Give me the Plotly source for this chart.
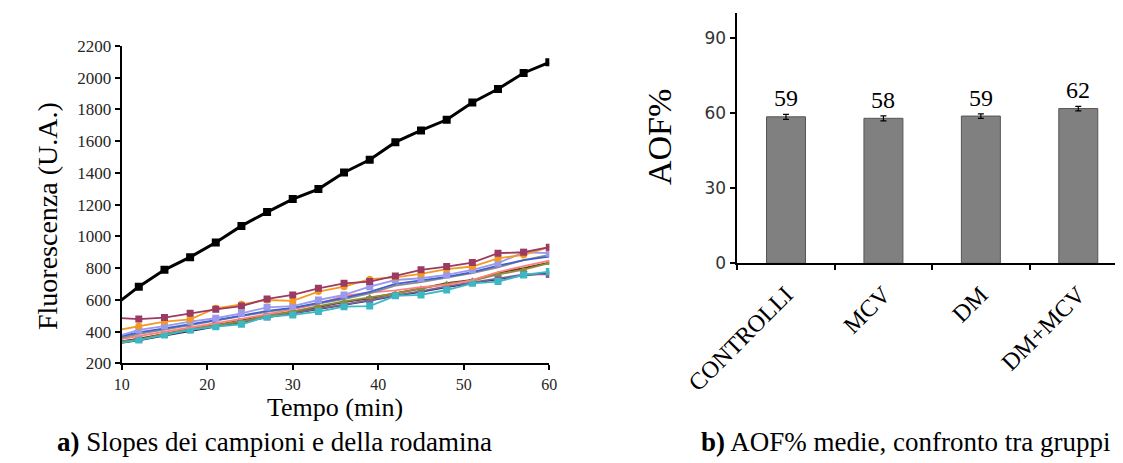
import plotly.graph_objects as go

# ---------------- data: panel a ----------------
tempo = [9, 12, 15, 18, 21, 24, 27, 30, 33, 36, 39, 42, 45, 48, 51, 54, 57, 60]
rodamina = [558, 683, 789, 869, 961, 1066, 1153, 1235, 1298, 1403, 1483, 1594, 1668, 1735, 1844, 1929, 2030, 2097]
c_maroon = [487, 479, 488, 515, 540, 561, 606, 631, 673, 704, 715, 751, 789, 810, 835, 894, 900, 932]
c_orange = [404, 435, 463, 477, 547, 572, 599, 593, 652, 683, 730, 742, 763, 793, 810, 862, 883, 932]
c_lavender = [362, 410, 435, 463, 484, 515, 553, 561, 599, 631, 683, 725, 736, 757, 789, 831, 900, 894]
c_blue = [360, 395, 420, 445, 472, 500, 530, 550, 580, 612, 650, 700, 722, 745, 775, 815, 850, 873]
c_grey = [350, 385, 412, 440, 468, 495, 525, 548, 575, 605, 640, 690, 712, 738, 768, 805, 850, 883]
c_pink = [345, 372, 400, 425, 450, 480, 510, 540, 575, 625, 645, 660, 680, 694, 725, 775, 812, 847]
c_teal = [322, 347, 378, 410, 431, 446, 494, 505, 526, 557, 561, 625, 631, 662, 704, 715, 757, 778]
c_olive = [335, 347, 385, 415, 440, 465, 500, 525, 560, 590, 615, 640, 670, 700, 720, 760, 790, 831]
c_brown = [330, 355, 385, 415, 440, 470, 500, 525, 555, 585, 610, 640, 672, 705, 725, 770, 800, 835]
c_navy = [322, 345, 375, 405, 432, 460, 490, 515, 540, 568, 595, 625, 650, 680, 705, 728, 755, 768]
c_purple = [330, 352, 382, 412, 438, 462, 492, 515, 545, 570, 600, 628, 655, 685, 710, 735, 760, 760]
y_ticks_a = [200, 400, 600, 800, 1000, 1200, 1400, 1600, 1800, 2000, 2200]
x_ticks_a = [10, 20, 30, 40, 50, 60]

# ---------------- data: panel b ----------------
gruppi = ["CONTROLLI", "MCV", "DM", "DM+MCV"]
aof = [58.6, 58.0, 58.9, 61.9]
aof_err = [1.0, 1.0, 0.9, 0.9]
aof_lbl = ["59", "58", "59", "62"]
y_ticks_b = [0, 30, 60, 90]

SERIF = "Liberation Serif"
W, H = 1123, 463
OFF = 8  # the page body margin shifts the figure by this many pixels


def fx(x):
    return (x - OFF) / W


def fy(y):
    return 1 - (y - OFF) / H


fig = go.Figure()

samples = [
    (c_navy, "#1F2F5F", None),
    (c_purple, "#7F63A0", "square"),
    (c_brown, "#5C3A1E", None),
    (c_olive, "#8C8C3C", "triangle-up"),
    (c_teal, "#3BB8C3", "square"),
    (c_pink, "#FF8080", None),
    (c_grey, "#8C8C8C", None),
    (c_blue, "#4060D0", None),
    (c_lavender, "#9999EE", "square"),
    (c_orange, "#F59A1E", "circle"),
    (c_maroon, "#9B3A62", "square"),
]
for vals, col, sym in samples:
    fig.add_trace(go.Scatter(
        x=tempo, y=vals, xaxis="x", yaxis="y",
        mode="lines+markers" if sym else "lines",
        line=dict(color=col, width=1.8),
        marker=dict(symbol=sym or "circle", size=7, color=col),
        showlegend=False))

fig.add_trace(go.Scatter(
    x=tempo, y=rodamina, xaxis="x", yaxis="y", mode="lines+markers",
    line=dict(color="black", width=3),
    marker=dict(symbol="square", size=8, color="black"),
    showlegend=False))

fig.add_trace(go.Bar(
    x=gruppi, y=aof, xaxis="x2", yaxis="y2", width=0.4,
    marker=dict(color="#808080", line=dict(color="#555555", width=1)),
    error_y=dict(type="data", array=aof_err, color="black", thickness=1.2, width=3),
    showlegend=False))

annotations = []
for g, v, e, t in zip(gruppi, aof, aof_err, aof_lbl):
    annotations.append(dict(x=g, y=v + e, xref="x2", yref="y2", text=t, showarrow=False,
                            yanchor="bottom", yshift=1,
                            font=dict(family=SERIF, size=24, color="black")))


def px_note(text, x, y, size, xanchor="center", angle=0):
    return dict(text=text, x=fx(x), y=fy(y), xref="paper", yref="paper",
                showarrow=False, xanchor=xanchor, yanchor="middle", textangle=angle,
                font=dict(family=SERIF, size=size, color="black"))


annotations += [
    px_note("Fluorescenza (U.A.)", 47, 216, 28, angle=-90),
    px_note("Tempo (min)", 335, 407, 26),
    px_note("<b>a)</b> Slopes dei campioni e della rodamina", 55, 442, 27, xanchor="left"),
    px_note("<b>b)</b> AOF% medie, confronto tra gruppi", 1112, 442, 27, xanchor="right"),
    px_note("AOF%", 659, 137, 34, angle=-90),
]

fig.update_layout(
    width=W, height=H,
    margin=dict(l=0, r=0, t=0, b=0, autoexpand=False),
    paper_bgcolor="white", plot_bgcolor="white",
    annotations=annotations,
    xaxis=dict(domain=[fx(121.7), fx(549.3)], range=[10, 60], tickvals=x_ticks_a,
               automargin=False,
               showline=True, linecolor="black", linewidth=2, ticks="outside", ticklen=5,
               tickcolor="black", tickwidth=2, showgrid=False, zeroline=False,
               tickfont=dict(family=SERIF, size=16, color="#262626")),
    yaxis=dict(domain=[fy(363.3), fy(46)], range=[200, 2200], tickvals=y_ticks_a,
               automargin=False,
               showline=True, linecolor="black", linewidth=2, ticks="outside", ticklen=5,
               tickcolor="black", tickwidth=2, showgrid=False, zeroline=False,
               tickfont=dict(family=SERIF, size=17, color="#262626")),
    xaxis2=dict(domain=[fx(737.3), fx(1127)], range=[-0.5, 3.5], anchor="y2", automargin=False,
                showline=True, linecolor="black", linewidth=1.5, ticks="outside", ticklen=5,
                tickson="boundaries", tickcolor="black", tickwidth=1.5, tickangle=-45,
                ticklabelstandoff=6,
                showgrid=False, zeroline=False,
                tickfont=dict(family=SERIF, size=24, color="black")),
    yaxis2=dict(domain=[fy(263.3), fy(13.3)], range=[0, 100], tickvals=y_ticks_b,
                anchor="x2", automargin=False, showline=True, linecolor="black", linewidth=1.5,
                ticks="outside", ticklen=6, tickcolor="black", tickwidth=1.5,
                showgrid=False, zeroline=False,
                tickfont=dict(family="DejaVu Sans", size=17, color="#333333")),
)

fig.write_html("out.html")
